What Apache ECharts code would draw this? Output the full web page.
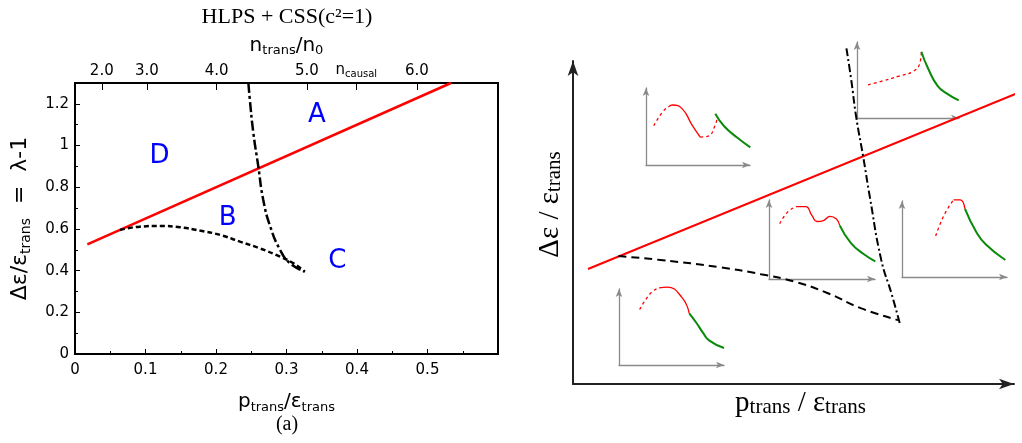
<!DOCTYPE html>
<html>
<head>
<meta charset="utf-8">
<script src="https://cdn.jsdelivr.net/npm/echarts@6/dist/echarts.min.js"></script>
<style>
  html, body { margin: 0; padding: 0; background: #fff; }
  #chart { width: 1022px; height: 443px; }
</style>
</head>
<body>
<div id="chart"></div>
<script>
// ---- left panel: p/e vs delta e / e, with n/n0 on the top axis ----
const topTickPos = [0.038, 0.102, 0.201, 0.329, 0.399, 0.485];
const topTickLabels = ['2.0', '3.0', '4.0', '5.0', 'n_causal', '6.0'];

const seidovLine = [[0.0175, 0.526], [0.5333, 1.3]];
const boundaryBC = [[0.064, 0.595], [0.092, 0.611], [0.121, 0.614], [0.149, 0.608], [0.177, 0.592],
  [0.206, 0.571], [0.234, 0.539], [0.262, 0.507], [0.291, 0.467], [0.31, 0.435], [0.326, 0.395]];
const boundaryAC = [[0.246, 1.3], [0.248, 1.22], [0.253, 1.06], [0.26, 0.9], [0.267, 0.74],
  [0.277, 0.611], [0.291, 0.499], [0.305, 0.435], [0.326, 0.395]];

const regionNames = ['A', 'B', 'C', 'D'];
const regionPos = [[0.343, 1.147], [0.2166, 0.651], [0.372, 0.443], [0.12, 0.947]];

// ---- right panel: schematic (0..100 units) ----
const sketchRed = [[3.4, 35.6], [101.4, 90.4]];
const sketchDashed = [[10.3, 39.6], [19.8, 38.4], [33.5, 36.1], [42.6, 34.0], [50.2, 31.7],
  [57.8, 28.1], [65.4, 23.4], [73.7, 19.8]];
const sketchDashDot = [[62.0, 103.9], [63.1, 94.1], [64.2, 82.8], [65.8, 70.4], [67.3, 58.0],
  [69.9, 38.4], [72.2, 28.1], [74.1, 18.8]];

// insets (0..10 units each)
const inset1DashA = [[0.75, 5.09], [1.59, 6.88], [2.2, 7.6]];
const inset1Red = [[2.2, 7.6], [2.55, 7.79], [3.49, 7.29], [4.42, 5.21], [5.21, 3.63]];
const inset1DashB = [[5.21, 3.63], [5.98, 3.75], [6.64, 5.13], [6.85, 6.3]];
const inset1Green = [[6.66, 6.66], [7.54, 5.0], [8.79, 3.54], [10.03, 2.29]];

const inset2Dash = [[1.08, 4.36], [2.5, 4.87], [4.1, 5.51], [5.52, 6.15], [6.16, 7.22], [6.31, 8.72]];
const inset2Green = [[6.31, 8.72], [6.95, 6.58], [7.9, 4.23], [8.86, 3.17], [9.97, 2.31]];

const inset3Dash = [[1.01, 6.99], [1.77, 8.5], [2.54, 9.15]];
const inset3Red = [[2.54, 9.15], [3.46, 9.15], [4.06, 8.01], [4.52, 7.28], [5.14, 7.4],
  [5.75, 7.93], [6.36, 7.6], [6.67, 6.79]];
const inset3Green = [[6.67, 6.79], [7.73, 4.55], [8.96, 3.13], [10.03, 2.23]];

const inset4Dash = [[3.21, 5.4], [3.98, 8.06], [4.91, 10.16]];
const inset4Red = [[4.91, 10.16], [5.53, 10.16], [5.99, 8.99]];
const inset4Green = [[5.99, 8.99], [7.06, 5.95], [7.99, 4.27], [9.84, 2.24]];

const inset5Dash = [[1.97, 7.3], [3.06, 9.53], [3.82, 10.16]];
const inset5Red = [[3.82, 10.16], [4.6, 10.25], [5.99, 8.9], [6.69, 6.8]];
const inset5Green = [[6.69, 6.8], [7.38, 5.53], [7.99, 4.27], [8.61, 3.2], [10, 2.24]];

const chart = echarts.init(document.getElementById('chart'));

const sans = 'DejaVu Sans';
const serif = 'Liberation Serif';
const RED = '#ff0000';
const GREEN = '#0a8a0a';

// grid layout of the insets (left, top, width, height)
const insetBoxes = [
  [646, 88, 104, 77],
  [857, 42, 102, 76],
  [769, 200, 106, 79],
  [902, 201, 105, 76],
  [619, 289, 105, 76]
];

function line(data, xi, yi, color, width, type, smooth) {
  return {
    type: 'line', data: data, xAxisIndex: xi, yAxisIndex: yi,
    showSymbol: false, symbol: 'none', smooth: smooth === undefined ? true : smooth,
    clip: false, silent: true, animation: false,
    lineStyle: { color: color, width: width, type: type || 'solid' }
  };
}

const grids = [
  { left: 75, top: 83, width: 423, height: 271, show: true, borderColor: '#000', borderWidth: 2 },
  { left: 573, top: 61, width: 441, height: 323 }
];
insetBoxes.forEach(b => grids.push({ left: b[0], top: b[1], width: b[2], height: b[3] }));

const subRich = {
  m: { fontFamily: sans, fontSize: 20, color: '#000', lineHeight: 24 },
  s: { fontFamily: sans, fontSize: 13, color: '#000', lineHeight: 14, verticalAlign: 'bottom' }
};
const yRich = {
  m: { fontFamily: sans, fontSize: 22, color: '#000', lineHeight: 26 },
  s: { fontFamily: sans, fontSize: 14, color: '#000', lineHeight: 15, verticalAlign: 'bottom' }
};
const sketchRich = {
  m: { fontFamily: serif, fontSize: 29, color: '#000', lineHeight: 30 },
  s: { fontFamily: serif, fontSize: 21, color: '#000', lineHeight: 18, verticalAlign: 'bottom' }
};

const xAxes = [
  {
    gridIndex: 0, type: 'value', min: 0, max: 0.6, interval: 0.1, position: 'bottom',
    axisLine: { lineStyle: { color: '#000', width: 2 } },
    axisTick: { inside: true, length: 5, lineStyle: { color: '#000' } },
    minorTick: { show: true, splitNumber: 2, length: 3, lineStyle: { color: '#000' } },
    axisLabel: { showMaxLabel: false, margin: 9, fontFamily: sans, fontSize: 15, color: '#000' },
    splitLine: { show: false },
    name: '{m|p}{s|trans}{m|/ε}{s|trans}', nameLocation: 'middle', nameGap: 36,
    nameTextStyle: { rich: subRich }
  },
  {
    gridIndex: 0, type: 'value', min: 0, max: 0.6, position: 'top',
    axisLine: { lineStyle: { color: '#000', width: 2 } },
    axisTick: { customValues: topTickPos, inside: true, length: 7, lineStyle: { color: '#000' } },
    axisLabel: {
      customValues: topTickPos, margin: 4, fontFamily: sans, fontSize: 15, color: '#000',
      formatter: function (v) {
        const i = topTickPos.findIndex(p => Math.abs(p - v) < 1e-9);
        const t = i < 0 ? '' : topTickLabels[i];
        return t === 'n_causal' ? '{n|n}{c|causal}' : t;
      },
      rich: {
        n: { fontFamily: sans, fontSize: 15, color: '#000', lineHeight: 18 },
        c: { fontFamily: sans, fontSize: 10, color: '#000', lineHeight: 10, verticalAlign: 'bottom' }
      }
    },
    splitLine: { show: false },
    name: '{m|n}{s|trans}{m|/n}{s|0}', nameLocation: 'middle', nameGap: 20,
    nameTextStyle: { rich: subRich }
  },
  {
    gridIndex: 1, type: 'value', min: 0, max: 100,
    axisLine: { symbol: ['none', 'arrow'], symbolSize: [8, 15], lineStyle: { color: '#222', width: 2 } },
    axisTick: { show: false }, axisLabel: { show: false }, splitLine: { show: false },
    name: '{m|p}{s|trans}{m| / ε}{s|trans}', nameLocation: 'middle', nameGap: 4,
    nameTextStyle: { rich: sketchRich, padding: [0, 0, 0, 14] }
  }
];
const yAxes = [
  {
    gridIndex: 0, type: 'value', min: 0, max: 1.3, interval: 0.2,
    axisLine: { lineStyle: { color: '#000', width: 2 } },
    axisTick: { inside: true, length: 5, lineStyle: { color: '#000' } },
    minorTick: { show: true, splitNumber: 2, length: 3, lineStyle: { color: '#000' } },
    axisLabel: { showMaxLabel: false, margin: 6, fontFamily: sans, fontSize: 15, color: '#000' },
    splitLine: { show: false },
    name: '{m|Δε/ε}{s|trans}{m|  =  λ-1}', nameLocation: 'middle', nameGap: 42, nameRotate: 90,
    nameTextStyle: { rich: yRich, padding: [0, 0, 0, 0] }
  },
  {
    gridIndex: 1, type: 'value', min: 0, max: 100,
    axisLine: { symbol: ['none', 'arrow'], symbolSize: [8, 15], lineStyle: { color: '#222', width: 2 } },
    axisTick: { show: false }, axisLabel: { show: false }, splitLine: { show: false },
    name: '{m|Δε / ε}{s|trans}', nameLocation: 'middle', nameGap: 8, nameRotate: 90,
    nameTextStyle: { rich: sketchRich, padding: [0, 0, 0, 36] }
  }
];
insetBoxes.forEach((b, i) => {
  const ax = {
    gridIndex: i + 2, type: 'value', min: 0, max: 10,
    axisLine: { symbol: ['none', 'arrow'], symbolSize: [5, 8], lineStyle: { color: '#8a8a8a', width: 1.3 } },
    axisTick: { show: false }, axisLabel: { show: false }, splitLine: { show: false }
  };
  xAxes.push(Object.assign({}, ax));
  yAxes.push(Object.assign({}, ax));
});

const series = [
  line(seidovLine, 0, 0, RED, 2.5, 'solid', false),
  line(boundaryBC, 0, 0, '#000', 2.5, [5, 3]),
  line(boundaryAC, 0, 0, '#000', 2.5, [10, 3, 3, 3]),
  {
    type: 'scatter', xAxisIndex: 0, yAxisIndex: 0, symbolSize: 1, silent: true, animation: false,
    itemStyle: { color: 'rgba(0,0,0,0)' },
    data: regionPos.map((p, i) => ({ name: regionNames[i], value: p })),
    label: {
      show: true, position: 'inside', formatter: '{b}', fontFamily: sans, fontSize: 26,
      color: '#0000ff', textBorderWidth: 0, opacity: 1
    }
  },
  line(sketchRed, 2, 1, RED, 2, 'solid', false),
  line(sketchDashed, 2, 1, '#000', 2, [8, 5]),
  line(sketchDashDot, 2, 1, '#000', 2, [8, 3, 2, 3]),

  line(inset1DashA, 3, 2, RED, 1.3, [3, 3]),
  line(inset1Red, 3, 2, RED, 1.3),
  line(inset1DashB, 3, 2, RED, 1.3, [3, 3]),
  line(inset1Green, 3, 2, GREEN, 2),

  line(inset2Dash, 4, 3, RED, 1.3, [3, 3]),
  line(inset2Green, 4, 3, GREEN, 2),

  line(inset3Dash, 5, 4, RED, 1.3, [3, 3]),
  line(inset3Red, 5, 4, RED, 1.3),
  line(inset3Green, 5, 4, GREEN, 2),

  line(inset4Dash, 6, 5, RED, 1.3, [3, 3]),
  line(inset4Red, 6, 5, RED, 1.3),
  line(inset4Green, 6, 5, GREEN, 2),

  line(inset5Dash, 7, 6, RED, 1.3, [3, 3]),
  line(inset5Red, 7, 6, RED, 1.3),
  line(inset5Green, 7, 6, GREEN, 2)
];

chart.setOption({
  animation: false,
  backgroundColor: '#fff',
  grid: grids,
  xAxis: xAxes,
  yAxis: yAxes,
  series: series,
  graphic: [
    {
      type: 'text', x: 287, y: 17,
      style: { text: 'HLPS + CSS(c²=1)', fontFamily: serif, fontSize: 22, fill: '#000', align: 'center', verticalAlign: 'middle' }
    },
    {
      type: 'text', x: 287, y: 425,
      style: { text: '(a)', fontFamily: serif, fontSize: 20, fill: '#000', align: 'center', verticalAlign: 'middle' }
    }
  ]
});
</script>
</body>
</html>
